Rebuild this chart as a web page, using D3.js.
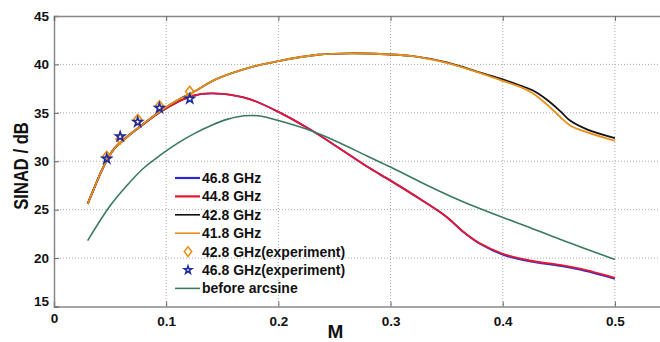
<!DOCTYPE html>
<html lang="en">
<head>
  <meta charset="UTF-8">
  <title>SINAD vs M</title>
  <script src="https://d3js.org/d3.v7.min.js"></script>
  <style>
    body { margin: 0; background: #fff; }
    text { font-family: "Liberation Sans", Arial, sans-serif; font-weight: bold; fill: #111; }
  </style>
</head>
<body>
  <div id="chart"></div>
  <script>
    // simulated curves (M on x, SINAD in dB on y)
    const mHigh = [0.03, 0.035, 0.044, 0.053, 0.065, 0.08, 0.095, 0.11, 0.125, 0.145, 0.175, 0.2, 0.235, 0.265, 0.295, 0.32, 0.35, 0.38, 0.4, 0.415, 0.427, 0.44, 0.451, 0.46, 0.475, 0.5];
    const ghz418 = [25.6, 27.0, 29.4, 31.2, 32.5, 33.9, 35.2, 36.3, 37.2, 38.5, 39.7, 40.35, 41.0, 41.15, 41.05, 40.85, 40.15, 39.1, 38.3, 37.7, 37.0, 35.8, 34.6, 33.7, 33.0, 32.1];
    const ghz428 = [25.6, 27.0, 29.4, 31.2, 32.5, 33.9, 35.2, 36.3, 37.2, 38.5, 39.7, 40.35, 41.0, 41.15, 41.05, 40.85, 40.2, 39.15, 38.45, 37.85, 37.3, 36.3, 35.2, 34.2, 33.3, 32.4];

    const mLow = [0.03, 0.035, 0.044, 0.053, 0.065, 0.08, 0.095, 0.11, 0.125, 0.14, 0.16, 0.175, 0.2, 0.228, 0.255, 0.279, 0.3, 0.329, 0.35, 0.365, 0.38, 0.4, 0.424, 0.451, 0.469, 0.5];
    const ghz448 = [25.6, 27.0, 29.4, 31.2, 32.5, 33.85, 35.1, 36.1, 36.8, 37.0, 36.8, 36.4, 35.1, 33.3, 31.3, 29.45, 28.0, 25.9, 24.25, 22.7, 21.5, 20.45, 19.75, 19.3, 18.9, 17.95];
    const ghz468 = [25.6, 27.0, 29.4, 31.2, 32.5, 33.85, 35.1, 36.1, 36.8, 37.0, 36.8, 36.4, 35.1, 33.3, 31.3, 29.45, 28.0, 25.9, 24.25, 22.7, 21.45, 20.35, 19.65, 19.2, 18.8, 17.85];

    const mArc = [0.03, 0.05, 0.065, 0.08, 0.095, 0.11, 0.125, 0.14, 0.155, 0.17, 0.185, 0.2, 0.228, 0.25, 0.279, 0.3, 0.332, 0.362, 0.4, 0.421, 0.451, 0.5];
    const beforeArcsine = [21.8, 25.4, 27.5, 29.3, 30.65, 31.85, 32.85, 33.7, 34.35, 34.7, 34.65, 34.2, 33.2, 32.15, 30.55, 29.4, 27.55, 25.95, 24.2, 23.3, 21.95, 19.85];

    // measured points
    const mExp = [0.047, 0.059, 0.0746, 0.094, 0.121];
    const exp428 = [30.5, 32.3, 34.3, 35.7, 37.2];
    const exp468 = [30.25, 32.55, 34.05, 35.5, 36.45];

    const xTicks = [0, 0.1, 0.2, 0.3, 0.4, 0.5];
    const yTicks = [15, 20, 25, 30, 35, 40, 45];

    const width = 660, height = 342;
    const padL = 54, padT = 16, plotBottom = 306.5, plotRight = 671;

    const svg = d3.select('#chart').append('svg')
      .attr('width', width)
      .attr('height', height);

    const x = d3.scaleLinear().domain([0, 0.55]).range([padL, plotRight]);
    const y = d3.scaleLinear().domain([15, 45]).range([plotBottom, padT]);

    // dotted grid
    svg.append('g')
      .selectAll('line')
      .data(xTicks.slice(1))
      .enter().append('line')
      .attr('x1', d => x(d)).attr('x2', d => x(d))
      .attr('y1', padT).attr('y2', plotBottom)
      .attr('stroke', '#aaa').attr('stroke-width', 1)
      .attr('stroke-dasharray', '1,2');
    svg.append('g')
      .selectAll('line')
      .data(yTicks.slice(1, -1))
      .enter().append('line')
      .attr('x1', padL).attr('x2', width)
      .attr('y1', d => y(d)).attr('y2', d => y(d))
      .attr('stroke', '#aaa').attr('stroke-width', 1)
      .attr('stroke-dasharray', '1,2');

    // axes
    const xAxis = d3.axisBottom(x).tickValues(xTicks).tickSize(-5).tickPadding(10)
      .tickFormat(d => d === 0 ? '0' : d3.format('.1f')(d));
    const gx = svg.append('g').attr('transform', `translate(0,${plotBottom})`).call(xAxis);
    const yAxis = d3.axisLeft(y).tickValues(yTicks).tickSize(-5).tickPadding(5);
    const gy = svg.append('g').attr('transform', `translate(${padL},0)`).call(yAxis);
    const xTop = d3.axisTop(x).tickValues(xTicks).tickSize(-5).tickFormat('');
    const gt = svg.append('g').attr('transform', `translate(0,${padT})`).call(xTop);

    [gx, gy, gt].forEach(g => {
      g.select('.domain').attr('stroke', '#888').attr('stroke-width', 1.5);
      g.selectAll('.tick line').attr('stroke', '#666');
      g.selectAll('text').attr('font-size', 13.5).attr('font-weight', 'bold')
        .attr('font-family', '"Liberation Sans", Arial, sans-serif').attr('fill', '#111');
    });
    gy.selectAll('.tick').filter(d => d === 15).select('text').attr('dy', '-0.1em');
    gx.selectAll('.tick').filter(d => d === 0).select('text').attr('dy', '0.45em');

    // axis titles
    svg.append('text')
      .attr('transform', 'translate(28,166) rotate(-90) scale(0.83,1)')
      .attr('text-anchor', 'middle')
      .attr('font-size', 20)
      .text('SINAD / dB');
    svg.append('text')
      .attr('x', x(0.25) + 1).attr('y', 338)
      .attr('text-anchor', 'middle')
      .attr('font-size', 19)
      .text('M');

    // curves
    const series = [
      { name: '46.8 GHz', m: mLow, v: ghz468, color: '#2b2bd6' },
      { name: '44.8 GHz', m: mLow, v: ghz448, color: '#e6172f' },
      { name: '42.8 GHz', m: mHigh, v: ghz428, color: '#111111' },
      { name: '41.8 GHz', m: mHigh, v: ghz418, color: '#e8901a' },
      { name: 'before arcsine', m: mArc, v: beforeArcsine, color: '#3a7a5e' }
    ];
    const line = d3.line().x(d => x(d[0])).y(d => y(d[1])).curve(d3.curveCatmullRom.alpha(0.5));
    series.forEach(s => {
      svg.append('path')
        .datum(s.m.map((m, i) => [m, s.v[i]]))
        .attr('d', line)
        .attr('fill', 'none')
        .attr('stroke', s.color)
        .attr('stroke-width', s.name === 'before arcsine' ? 1.6 : 1.8);
    });

    // experiment markers
    const diamond = d3.symbol().type(d3.symbolDiamond).size(34);
    const star = d3.symbol().type(d3.symbolStar).size(26);
    svg.append('g').selectAll('path')
      .data(mExp.map((m, i) => [m, exp428[i]]))
      .enter().append('path')
      .attr('d', diamond)
      .attr('transform', d => `translate(${x(d[0])},${y(d[1])}) scale(1.3,0.95)`)
      .attr('fill', 'none').attr('stroke', '#e8901a').attr('stroke-width', 1.4);
    svg.append('g').selectAll('path')
      .data(mExp.map((m, i) => [m, exp468[i]]))
      .enter().append('path')
      .attr('d', star)
      .attr('transform', d => `translate(${x(d[0])},${y(d[1])})`)
      .attr('fill', 'none').attr('stroke', '#1d2a9c').attr('stroke-width', 1.6);

    // legend
    const legendItems = [
      { label: '46.8 GHz', kind: 'line', color: '#2b2bd6' },
      { label: '44.8 GHz', kind: 'line', color: '#e6172f' },
      { label: '42.8 GHz', kind: 'line', color: '#111111' },
      { label: '41.8 GHz', kind: 'line', color: '#e8901a' },
      { label: '42.8 GHz(experiment)', kind: 'diamond', color: '#e8901a' },
      { label: '46.8 GHz(experiment)', kind: 'star', color: '#1d2a9c' },
      { label: 'before arcsine', kind: 'line', color: '#3a7a5e' }
    ];
    const lg = svg.append('g').attr('transform', 'translate(175,178)');
    legendItems.forEach((d, i) => {
      const row = lg.append('g').attr('transform', `translate(0,${i * 18.4})`);
      if (d.kind === 'line') {
        row.append('line').attr('x1', 0).attr('x2', 25).attr('y1', 0).attr('y2', 0)
          .attr('stroke', d.color).attr('stroke-width', i < 2 ? 2.2 : 1.6);
      } else if (d.kind === 'diamond') {
        row.append('path').attr('d', diamond)
          .attr('transform', 'translate(13,0) scale(1.2,0.9)')
          .attr('fill', 'none').attr('stroke', d.color).attr('stroke-width', 1.4);
      } else {
        row.append('path').attr('d', d3.symbol().type(d3.symbolStar).size(18))
          .attr('transform', 'translate(13,0)')
          .attr('fill', 'none').attr('stroke', d.color).attr('stroke-width', 1.5);
      }
      row.append('text').attr('x', 27).attr('y', 5).attr('font-size', 14).text(d.label);
    });
  </script>
</body>
</html>
